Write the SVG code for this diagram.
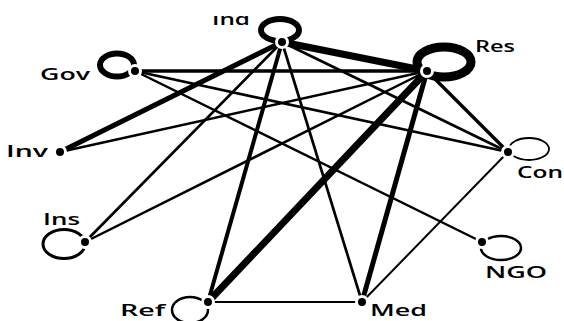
<svg xmlns="http://www.w3.org/2000/svg" width="564" height="321" viewBox="0 0 564 321">
<style>
.e{stroke:#000;fill:none;stroke-linecap:butt}
.loop{fill:none;stroke:#000}
.dot{fill:#000;stroke:#fff;stroke-width:3}
.lbl{font-family:"Open Sans","DejaVu Sans",sans-serif;font-weight:600;font-size:17px;fill:#000}
</style>
<defs>
<clipPath id="topcut"><rect x="0" y="16" width="564" height="305"/></clipPath>
</defs>
<rect width="564" height="321" fill="#fff"/>
<g id="connectors">
<line class="e" x1="282" y1="42" x2="427" y2="71" stroke-width="7"/>
<line class="e" x1="427" y1="71" x2="208" y2="302" stroke-width="7"/>
<line class="e" x1="282" y1="42" x2="60" y2="152" stroke-width="5"/>
<line class="e" x1="427" y1="71" x2="362" y2="302" stroke-width="5"/>
<line class="e" x1="282" y1="42" x2="208" y2="302" stroke-width="4"/>
<line class="e" x1="135" y1="71" x2="427" y2="71" stroke-width="3.5"/>
<line class="e" x1="427" y1="71" x2="508" y2="152" stroke-width="3.3"/>
<line class="e" x1="282" y1="42" x2="85" y2="242" stroke-width="2.7"/>
<line class="e" x1="282" y1="42" x2="362" y2="302" stroke-width="2.7"/>
<line class="e" x1="282" y1="42" x2="508" y2="152" stroke-width="2.7"/>
<line class="e" x1="135" y1="71" x2="508" y2="152" stroke-width="2.7"/>
<line class="e" x1="135" y1="71" x2="482" y2="242" stroke-width="2.3"/>
<line class="e" x1="427" y1="71" x2="60" y2="152" stroke-width="2.5"/>
<line class="e" x1="427" y1="71" x2="85" y2="242" stroke-width="2.5"/>
<line class="e" x1="208" y1="302" x2="362" y2="302" stroke-width="2"/>
<line class="e" x1="362" y1="302" x2="508" y2="152" stroke-width="2"/>
</g>
<g id="node-ind">
<ellipse class="loop" cx="280" cy="30" rx="19" ry="11" stroke-width="6"/>
<circle class="dot" cx="282" cy="42" r="5.5"/>
<text class="lbl" x="212" y="25" textLength="38" lengthAdjust="spacingAndGlyphs" clip-path="url(#topcut)">Ind</text>
</g>
<g id="node-res">
<ellipse class="loop" cx="444" cy="62" rx="27" ry="15" stroke-width="9"/>
<circle class="dot" cx="427" cy="71" r="5.5"/>
<text class="lbl" x="475" y="52" textLength="40" lengthAdjust="spacingAndGlyphs">Res</text>
</g>
<g id="node-gov">
<ellipse class="loop" cx="117" cy="65" rx="17" ry="11.5" stroke-width="6"/>
<circle class="dot" cx="135" cy="71" r="5.5"/>
<text class="lbl" x="40" y="80" textLength="50" lengthAdjust="spacingAndGlyphs">Gov</text>
</g>
<g id="node-inv">
<circle class="dot" cx="60" cy="152" r="5.5"/>
<text class="lbl" x="6" y="157" textLength="42" lengthAdjust="spacingAndGlyphs">Inv</text>
</g>
<g id="node-con">
<ellipse class="loop" cx="529" cy="149" rx="20" ry="11" stroke-width="1.8"/>
<circle class="dot" cx="508" cy="152" r="5.5"/>
<text class="lbl" x="517" y="178" textLength="46" lengthAdjust="spacingAndGlyphs">Con</text>
</g>
<g id="node-ins">
<ellipse class="loop" cx="64" cy="244" rx="21" ry="14.5" stroke-width="3"/>
<circle class="dot" cx="85" cy="242" r="5.5"/>
<text class="lbl" x="43" y="225" textLength="37" lengthAdjust="spacingAndGlyphs">Ins</text>
</g>
<g id="node-ngo">
<ellipse class="loop" cx="501" cy="248" rx="20" ry="12" stroke-width="2.5"/>
<circle class="dot" cx="482" cy="242" r="5.5"/>
<text class="lbl" x="485" y="278" textLength="62" lengthAdjust="spacingAndGlyphs">NGO</text>
</g>
<g id="node-ref">
<ellipse class="loop" cx="190" cy="310" rx="18" ry="13" stroke-width="2.5"/>
<circle class="dot" cx="208" cy="302" r="5.5"/>
<text class="lbl" x="120" y="316" font-size="15" textLength="45" lengthAdjust="spacingAndGlyphs">Ref</text>
</g>
<g id="node-med">
<circle class="dot" cx="362" cy="302" r="5.5"/>
<text class="lbl" x="370" y="316" font-size="15" textLength="57" lengthAdjust="spacingAndGlyphs">Med</text>
</g>
</svg>
